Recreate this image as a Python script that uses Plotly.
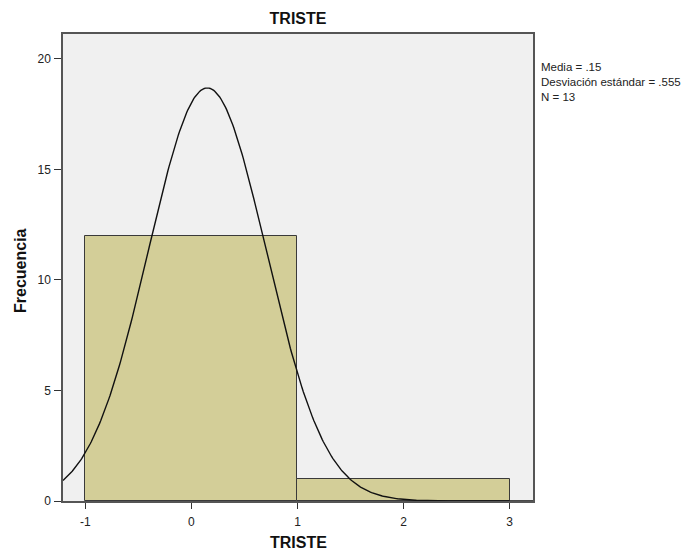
import numpy as np
import plotly.graph_objects as go

# Data
bin_centers = [0, 2]
bin_width = 2
counts = [12, 1]
mean_val = 0.15
std_val = 0.555
n_val = 13
x_ticks = [-1, 0, 1, 2, 3]
y_ticks = [0, 5, 10, 15, 20]
stats_lines = ["Media = .15", "Desviación estándar = .555", "N = 13"]

x_range = [-1.21, 3.22]
y_range = [0, 21.13]

# Fitted normal curve scaled to histogram (from stats)
xc = np.linspace(x_range[0], x_range[1], 400)
yc = n_val * bin_width / (std_val * np.sqrt(2 * np.pi)) * np.exp(-0.5 * ((xc - mean_val) / std_val) ** 2)

W, H = 693, 552
L, R, T, B = 63, 533, 34, 501

fig = go.Figure()
fig.add_trace(go.Bar(
    x=bin_centers, y=counts, width=[bin_width] * len(bin_centers),
    marker=dict(color="#D3CE98", line=dict(color="#3a3a3a", width=1)),
    hoverinfo="skip", showlegend=False,
))
fig.add_trace(go.Scatter(
    x=xc, y=yc, mode="lines", line=dict(color="#111111", width=1.4),
    showlegend=False, hoverinfo="skip",
))

font_family = "Liberation Sans, Arial, sans-serif"
fig.update_layout(
    width=W, height=H,
    margin=dict(l=L, r=W - R, t=T, b=H - B, autoexpand=False),
    paper_bgcolor="white", plot_bgcolor="#F0F0F0",
    font=dict(family=font_family, size=12, color="#222"),
    title=dict(text="<b>TRISTE</b>", x=(L + R) / 2 / W, xanchor="center",
               y=1 - 18 / H, yanchor="middle", font=dict(size=16, color="#111")),
    bargap=0,
    showlegend=False,
)
fig.update_xaxes(
    range=x_range, tickvals=x_ticks, ticktext=[str(t) for t in x_ticks],
    showgrid=False, zeroline=False, showline=True, linecolor="#555", linewidth=1.5, mirror=True,
    ticks="outside", ticklen=6, tickcolor="#333", tickwidth=1, automargin=False,
    ticklabelstandoff=3,
    tickfont=dict(size=12, color="#222"),
)
fig.update_yaxes(
    range=y_range, tickvals=y_ticks, ticktext=[str(t) for t in y_ticks],
    showgrid=False, zeroline=False, showline=True, linecolor="#555", linewidth=1.5, mirror=True,
    ticks="outside", ticklen=7, tickcolor="#333", tickwidth=1, automargin=False,
    ticklabelstandoff=1,
    tickfont=dict(size=12, color="#222"),
)

# Axis titles
fig.add_annotation(text="<b>TRISTE</b>", xref="paper", yref="paper",
                   x=0.5, xanchor="center", y=-(542 - B) / (B - T), yanchor="middle",
                   showarrow=False, font=dict(size=16, color="#111"))
fig.add_annotation(text="<b>Frecuencia</b>", xref="paper", yref="paper",
                   x=-(L - 20) / (R - L), xanchor="center", y=(B - 271) / (B - T), yanchor="middle",
                   textangle=-90, showarrow=False, font=dict(size=16, color="#111"))

# Statistics box text
fig.add_annotation(
    text="<br>".join(stats_lines), xref="paper", yref="paper",
    x=(539 - L) / (R - L), xanchor="left",
    y=(B - 59) / (B - T), yanchor="top",
    showarrow=False, font=dict(size=11.5, color="#222"), align="left",
)

fig.write_html("out.html")
